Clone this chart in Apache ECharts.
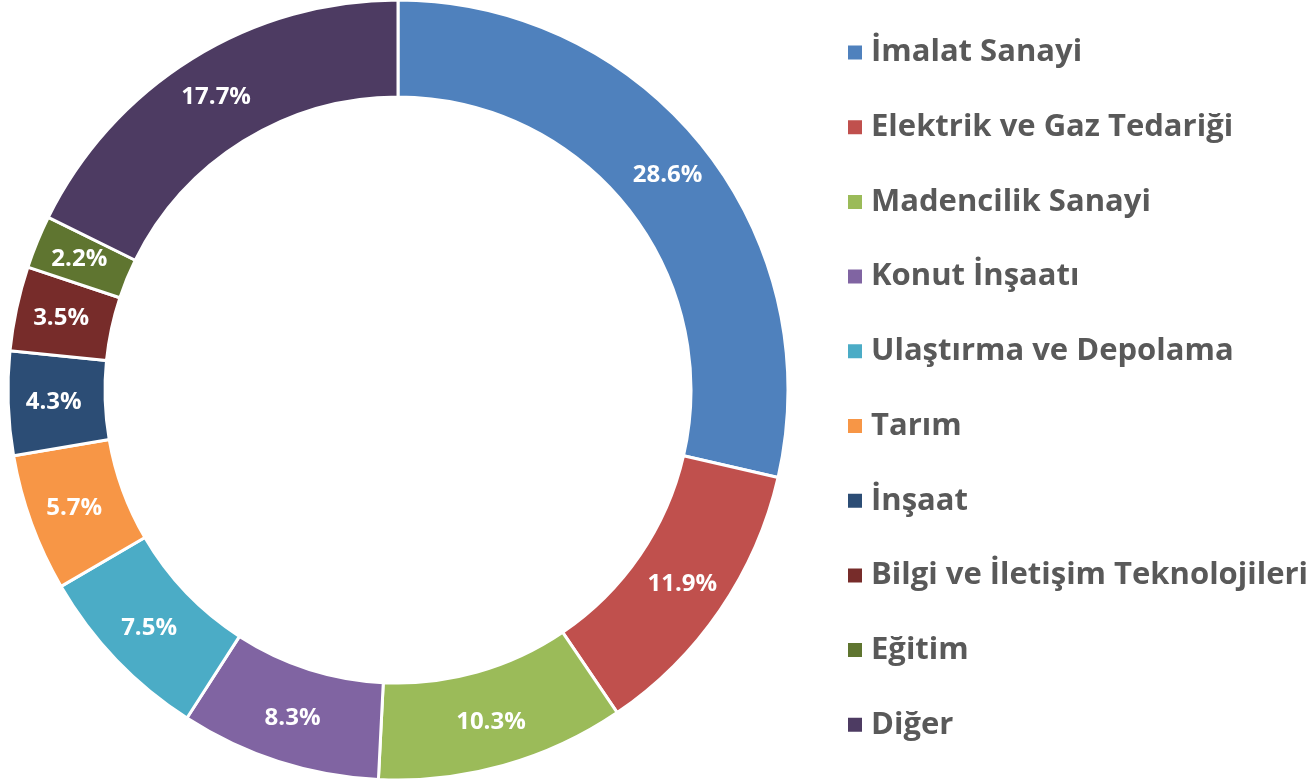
<!DOCTYPE html>
<html>
<head>
<meta charset="utf-8">
<script src="https://cdn.jsdelivr.net/npm/echarts@6/dist/echarts.min.js"></script>
<style>
  html, body { margin: 0; padding: 0; background: #fff; }
  #main { width: 1307px; height: 781px; }
</style>
</head>
<body>
<div id="main"></div>
<script>
var categories = ['İmalat Sanayi', 'Elektrik ve Gaz Tedariği', 'Madencilik Sanayi', 'Konut İnşaatı',
  'Ulaştırma ve Depolama', 'Tarım', 'İnşaat', 'Bilgi ve İletişim Teknolojileri', 'Eğitim', 'Diğer'];
var shares = [28.6, 11.9, 10.3, 8.3, 7.5, 5.7, 4.3, 3.5, 2.2, 17.7];
var colors = ['#4F81BD', '#C0504D', '#9BBB59', '#8064A2', '#4BACC6', '#F79646',
  '#2C4D75', '#772C2A', '#5F7530', '#4D3B62'];

var chart = echarts.init(document.getElementById('main'));

var option = {
  color: colors,
  textStyle: { fontFamily: 'Open Sans' },
  legend: {
    orient: 'vertical',
    left: 841,
    top: 32,
    itemWidth: 16,
    itemHeight: 16,
    itemGap: 43.7,
    icon: 'rect',
    textStyle: {
      color: '#595959',
      fontSize: 31,
      fontWeight: 'bold',
      fontFamily: 'Open Sans',
      padding: [0, 0, 0, 3]
    },
    data: categories
  },
  series: [{
    name: 'Pay',
    type: 'pie',
    center: [398, 390],
    radius: [293, 390],
    startAngle: 90,
    clockwise: true,
    avoidLabelOverlap: false,
    itemStyle: {
      borderColor: '#fff',
      borderWidth: 3
    },
    label: {
      show: true,
      position: 'inside',
      color: '#fff',
      fontSize: 24,
      fontWeight: 'bold',
      fontFamily: 'Open Sans',
      formatter: function (p) { return p.value.toFixed(1) + '%'; }
    },
    labelLine: { show: false },
    emphasis: { scale: false },
    data: categories.map(function (c, i) {
      return { name: c, value: shares[i] };
    })
  }]
};

chart.setOption(option);
</script>
</body>
</html>
